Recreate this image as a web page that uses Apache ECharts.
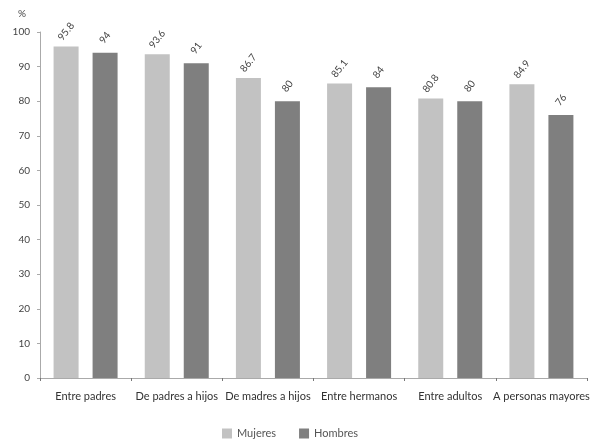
<!DOCTYPE html>
<html>
<head>
<meta charset="utf-8">
<script src="https://cdn.jsdelivr.net/npm/echarts@6/dist/echarts.min.js"></script>
<style>
html,body{margin:0;padding:0;background:#fff;}
#c{width:600px;height:442px;}
</style>
</head>
<body>
<div id="c"></div>
<script>
const categories = ['Entre padres', 'De padres a hijos', 'De madres a hijos', 'Entre hermanos', 'Entre adultos', 'A personas mayores'];
const mujeres = [95.8, 93.6, 86.7, 85.1, 80.8, 84.9];
const hombres = [94, 91, 80, 84, 80, 76];
const yTicks = [0, 10, 20, 30, 40, 50, 60, 70, 80, 90, 100];

const FONT = 'Lato, "Open Sans", sans-serif';
const chart = echarts.init(document.getElementById('c'));
const labelCfg = {
  show: true,
  position: 'top',
  distance: 15,
  rotate: 52,
  align: 'center',
  verticalAlign: 'middle',
  color: '#444',
  fontSize: 10,
  fontFamily: FONT
};
chart.setOption({
  animation: false,
  backgroundColor: '#fff',
  grid: { left: 40, right: 13, top: 32, bottom: 64, containLabel: false },
  legend: {
    top: 423,
    left: 217,
    itemWidth: 10,
    itemHeight: 10,
    itemGap: 23,
    icon: 'rect',
    textStyle: { color: '#555', fontSize: 11, fontFamily: FONT },
    data: ['Mujeres', 'Hombres']
  },
  xAxis: {
    type: 'category',
    data: categories,
    axisLine: { lineStyle: { color: '#aaa', width: 1 } },
    axisTick: { show: true, length: 3, lineStyle: { color: '#777' } },
    axisLabel: { color: '#333', fontSize: 11, fontFamily: FONT, margin: 13, interval: 0 }
  },
  yAxis: {
    type: 'value',
    min: 0,
    max: 100,
    interval: 10,
    name: '%',
    nameLocation: 'end',
    nameGap: 13,
    nameTextStyle: { color: '#444', fontSize: 10, fontFamily: FONT, align: 'right', padding: [0, 14, 0, 0] },
    axisLine: { show: true, lineStyle: { color: '#aaa', width: 1 } },
    axisTick: { show: true, length: 3, lineStyle: { color: '#aaa' } },
    splitLine: { show: false },
    axisLabel: {
      color: '#444', fontSize: 10, fontFamily: FONT, margin: 10,
      formatter: v => yTicks.includes(v) ? String(v) : ''
    }
  },
  series: [
    {
      name: 'Mujeres', type: 'bar', data: mujeres,
      barWidth: 25, barGap: '56%',
      itemStyle: { color: '#c2c2c2' },
      label: labelCfg
    },
    {
      name: 'Hombres', type: 'bar', data: hombres,
      barWidth: 25, barGap: '56%',
      itemStyle: { color: '#7f7f7f' },
      label: labelCfg
    }
  ]
});
</script>
</body>
</html>
